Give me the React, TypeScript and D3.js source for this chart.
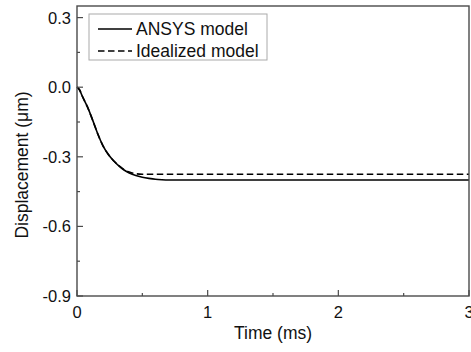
import React from "react";
import * as d3 from "d3";

// Time samples (ms) and displacement (µm) for each model
const timeAnsys = [0, 0.02, 0.04, 0.08, 0.12, 0.16, 0.2, 0.24, 0.28, 0.32, 0.36, 0.4, 0.45, 0.5, 0.55, 0.6, 0.65, 0.7, 0.8, 1.0, 1.5, 2.0, 2.5, 3.0];
const dispAnsys = [0, -0.012, -0.038, -0.085, -0.142, -0.203, -0.254, -0.29, -0.317, -0.339, -0.357, -0.37, -0.381, -0.388, -0.393, -0.397, -0.399, -0.4, -0.4, -0.4, -0.4, -0.4, -0.4, -0.4];

const timeIdeal = [0, 0.02, 0.04, 0.08, 0.12, 0.16, 0.2, 0.24, 0.28, 0.32, 0.36, 0.4, 0.45, 0.5, 0.6, 0.8, 1.0, 1.5, 2.0, 2.5, 3.0];
const dispIdeal = [0, -0.012, -0.038, -0.085, -0.142, -0.203, -0.254, -0.29, -0.317, -0.338, -0.355, -0.366, -0.373, -0.375, -0.375, -0.375, -0.375, -0.375, -0.375, -0.375, -0.375];

const xMajor = [0, 1, 2, 3];
const xMinor = [0.5, 1.5, 2.5];
const yMajor = [0.3, 0.0, -0.3, -0.6, -0.9];
const yMinor = [0.15, -0.15, -0.45, -0.75];

const legendLabels = ["ANSYS model", "Idealized model"];

const W = 471;
const H = 352;
const left = 77;
const right = 469;
const top = 6;
const bottom = 296;
const font = "'Liberation Sans', Arial, sans-serif";
const frameColor = "#4a4a4a";

// plain hyphen for negative tick values
const fmtY = (v: number) => d3.format(".1f")(v).replace("\u2212", "-");

export default function App() {
  const x = d3.scaleLinear().domain([0, 3]).range([left, right]);
  const y = d3.scaleLinear().domain([-0.9, 0.35]).range([bottom, top]);

  const line = d3
    .line<[number, number]>()
    .x((d) => x(d[0]))
    .y((d) => y(d[1]))
    .curve(d3.curveMonotoneX);

  const ansys = line(timeAnsys.map((t, i) => [t, dispAnsys[i]] as [number, number])) || "";
  const ideal = line(timeIdeal.map((t, i) => [t, dispIdeal[i]] as [number, number])) || "";

  return (
    <svg
      width={W}
      height={H}
      style={{ position: "absolute", left: 0, top: 0, display: "block", background: "#fff" }}
      fontFamily={font}
    >
      <rect x={0} y={0} width={W} height={H} fill="#fff" />

      {/* data */}
      <path d={ansys} fill="none" stroke="#000" strokeWidth={1.6} />
      <path d={ideal} fill="none" stroke="#000" strokeWidth={1.6} strokeDasharray="6.5,3.5" />

      {/* frame */}
      <rect x={left} y={top} width={right - left} height={bottom - top} fill="none" stroke={frameColor} strokeWidth={1.4} />

      {/* x ticks */}
      {xMajor.map((v) => (
        <g key={"xM" + v}>
          <line x1={x(v)} x2={x(v)} y1={bottom} y2={bottom - 6} stroke={frameColor} strokeWidth={1.2} />
          <text x={x(v)} y={bottom + 22} fontSize={16.5} textAnchor="middle" fill="#111">
            {d3.format("d")(v)}
          </text>
        </g>
      ))}
      {xMinor.map((v) => (
        <line key={"xm" + v} x1={x(v)} x2={x(v)} y1={bottom} y2={bottom - 3} stroke={frameColor} strokeWidth={1.2} />
      ))}

      {/* y ticks */}
      {yMajor.map((v) => (
        <g key={"yM" + v}>
          <line x1={left} x2={left + 6} y1={y(v)} y2={y(v)} stroke={frameColor} strokeWidth={1.2} />
          <text x={left - 6} y={y(v) + 6} fontSize={16.5} textAnchor="end" fill="#111">
            {fmtY(v)}
          </text>
        </g>
      ))}
      {yMinor.map((v) => (
        <line key={"ym" + v} x1={left} x2={left + 3} y1={y(v)} y2={y(v)} stroke={frameColor} strokeWidth={1.2} />
      ))}

      {/* axis titles */}
      <text x={(left + right) / 2} y={339} fontSize={17.5} textAnchor="middle" fill="#111">
        Time (ms)
      </text>
      <text
        transform="translate(28, 165) rotate(-90)"
        fontSize={17.5}
        textAnchor="middle"
        fill="#111"
      >
        Displacement (μm)
      </text>

      {/* legend */}
      <rect x={89} y={14} width={178} height={46} fill="#fff" stroke="#aaa" strokeWidth={1} />
      {legendLabels.map((label, i) => (
        <g key={label}>
          <line
            x1={98}
            x2={132}
            y1={29 + i * 22}
            y2={29 + i * 22}
            stroke="#000"
            strokeWidth={1.6}
            strokeDasharray={i === 1 ? "6.5,3.5" : undefined}
          />
          <text x={136} y={29 + i * 22 + 6} fontSize={17.5} fill="#111">
            {label}
          </text>
        </g>
      ))}
    </svg>
  );
}
